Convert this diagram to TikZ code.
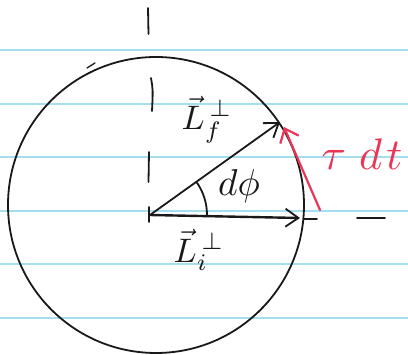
\documentclass[tikz,border=0pt]{standalone}
\usetikzlibrary{arrows.meta}
\definecolor{ruled}{RGB}{165,222,238}
\definecolor{penred}{RGB}{236,52,86}
\definecolor{ink}{RGB}{25,25,25}
\begin{document}
\begin{tikzpicture}[x=1pt,y=-1pt,
  pen/.style={draw=ink,line width=1.8pt,line cap=round,line join=round},
  vecarrow/.style={pen,-{Straight Barb[length=13pt,width=18pt,line width=1.8pt]}},
  redarrow/.style={draw=penred,line width=2.2pt,line cap=round,-{Straight Barb[length=12pt,width=20pt,line width=2.2pt]}},
  rule/.style={draw=ruled,line width=1.3pt},
  lab/.style={text=ink,inner sep=0pt,scale=3.4}]
\useasboundingbox[fill=white] (0,0) rectangle (408,355);
% ruled lines
\foreach \yy in {50,104,157,211,264,318} \draw[rule] (0,\yy) -- (408,\yy);
% circle
\draw[pen] (156,205) circle[radius=148];
\draw[pen,line width=1.3pt] (87,68) -- (95,63);
% dashed vertical axis
\draw[pen] (148,8) -- (148.5,34);
\draw[pen] (151,78) .. controls (153,90) .. (152,111);
\draw[pen] (149,152) -- (148.5,182);
\draw[pen] (149,207) -- (149,222);
% dashed horizontal axis
\draw[pen] (304,219) -- (317,219);
\draw[pen] (357,218) -- (385,218);
% vectors
\coordinate (O) at (150,215);
\coordinate (Ti) at (300,218);
\coordinate (Tf) at (280,122);
\coordinate (Rs) at (320,210);
\coordinate (Re) at (284,127);
\draw[vecarrow,line width=2.4pt] (O) -- (Ti);
\draw[vecarrow] (O) -- (Tf);
\draw[redarrow] (Rs) -- (Re);
% angle arc
\draw[pen] (O) ++(-35.6:57) arc[start angle=-35.6,end angle=0,radius=57];
% labels
\node[lab] (Lf) at (207,120) {$\vec{L}^{\,\perp}_{f}$};
\node[lab] (Li) at (199,250) {$\vec{L}^{\,\perp}_{i}$};
\node[lab,scale=1.1] (dphi) at (239,186) {$d\phi$};
\node[lab,text=penred,scale=1.3] (tdt) at (362,154) {$\tau\hspace{3pt}d\hspace{1pt}t$};
\end{tikzpicture}
\end{document}
